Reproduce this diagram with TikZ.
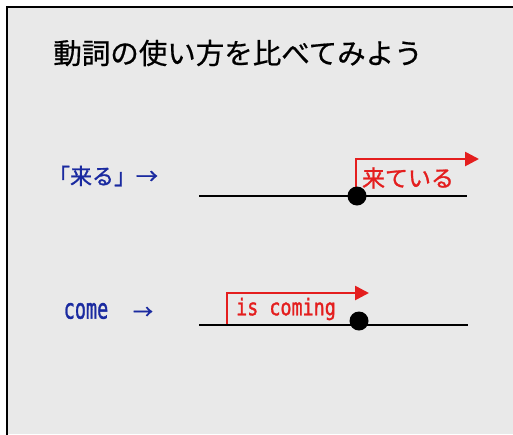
\documentclass[tikz,border=0pt]{standalone}
\usepackage{fontspec}
\setmainfont{Noto Sans CJK JP}
\newfontfamily\jpfont[FakeBold=0.6]{Noto Sans CJK JP}
\newfontfamily\jpbfont[FakeBold=1.2]{Noto Sans CJK JP}
\newfontfamily\monofont[FakeBold=1.4]{DejaVu Sans Mono}
\usetikzlibrary{arrows.meta}
\definecolor{bgray}{HTML}{E9E9E9}
\definecolor{tblue}{HTML}{1A2AA0}
\definecolor{tred}{HTML}{E41E1E}
\tikzset{
  axis/.style={draw=black, line width=1.8pt},
  redarrow/.style={draw=tred, line width=2.6pt, -{Triangle[length=14pt,width=14pt]}},
  dotc/.style={circle, fill=black, inner sep=0pt, minimum size=19pt},
  bluetxt/.style={text=tblue, inner sep=0pt},
  redtxt/.style={text=tred, inner sep=0pt},
}
\begin{document}
\begin{tikzpicture}[x=1pt,y=-1pt]
\useasboundingbox (0,0) rectangle (513,434);
\fill[white] (0,0) rectangle (513,434);
\fill[bgray] (7,7) rectangle (513,434);
\draw[line width=2.6pt] (7,440) -- (7,7) -- (520,7);

\node[inner sep=0pt] (title) at (238,53) {\fontsize{28.5pt}{32pt}\selectfont\jpfont 動詞の使い方を比べてみよう};

% row 1
\node[bluetxt] (kuru) at (103,176) {\fontsize{22pt}{26pt}\selectfont\jpbfont 「来る」→};
\coordinate (a1s) at (199,196);
\coordinate (a1e) at (467,196);
\draw[axis] (a1s) -- (a1e);
\coordinate (r1s) at (356,194);
\coordinate (r1c) at (356,159);
\coordinate (r1e) at (479,159);
\draw[redarrow] (r1s) -- (r1c) -- (r1e);
\node[dotc] (d1) at (357,196) {};
\node[redtxt] (kiteiru) at (408,178) {\fontsize{23pt}{26pt}\selectfont\jpbfont 来ている};

% row 2
\node[bluetxt] (come) at (86,311) {\scalebox{0.66}[1]{\fontsize{28pt}{30pt}\selectfont\monofont come}};
\node[bluetxt] (arr2) at (143,313) {\fontsize{20pt}{24pt}\selectfont\jpbfont →};
\coordinate (a2s) at (199,325);
\coordinate (a2e) at (468,325);
\draw[axis] (a2s) -- (a2e);
\coordinate (r2s) at (227,324);
\coordinate (r2c) at (227,293);
\coordinate (r2e) at (369,293);
\draw[redarrow] (r2s) -- (r2c) -- (r2e);
\node[dotc] (d2) at (359,321) {};
\node[redtxt] (coming) at (286,309) {\scalebox{0.8}[1]{\fontsize{23pt}{26pt}\selectfont\monofont is coming}};
\end{tikzpicture}
\end{document}
